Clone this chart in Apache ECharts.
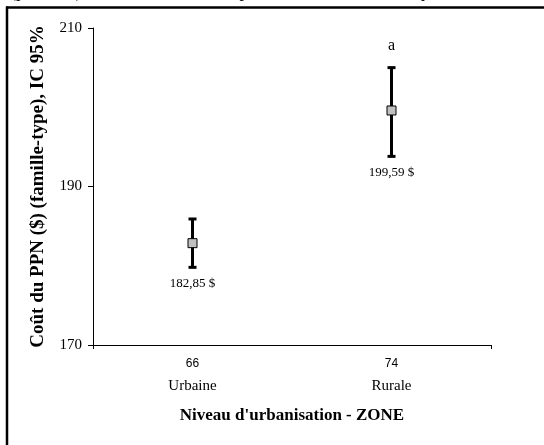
<!DOCTYPE html>
<html>
<head>
<meta charset="utf-8">
<script src="https://cdn.jsdelivr.net/npm/echarts@6/dist/echarts.min.js"></script>
<style>html,body{margin:0;padding:0;background:#fff;}#c{width:544px;height:445px;}</style>
</head>
<body>
<div id="c"></div>
<script>
var categories = ['Urbaine', 'Rurale'];
var counts = [66, 74];
var means = [182.85, 199.59];
var lowerCI = [179.8, 193.8];
var upperCI = [185.9, 205.0];
var meanLabels = ['182,85 $', '199,59 $'];
var letters = ['', 'a'];
var yTicks = [170, 190, 210];

var serif = '"Liberation Serif", "DejaVu Serif", serif';
var sans = '"Liberation Sans", Arial, sans-serif';

var chart = echarts.init(document.getElementById('c'), null, {renderer: 'canvas'});

var errData = categories.map(function (c, i) { return [i, lowerCI[i], upperCI[i], means[i]]; });

var option = {
  animation: false,
  backgroundColor: '#fff',
  grid: {left: 93, top: 28, right: 53, bottom: 100, containLabel: false},
  xAxis: [{
    type: 'category',
    data: categories,
    boundaryGap: true,
    axisLine: {lineStyle: {color: '#000', width: 1}},
    axisTick: {alignWithLabel: true, length: 4, lineStyle: {color: '#000'}},
    axisLabel: {
      margin: 8,
      formatter: function (v, i) { return '{n|' + counts[i] + '}\n{c|' + v + '}'; },
      rich: {
        n: {fontFamily: sans, fontSize: 12, color: '#000', lineHeight: 22},
        c: {fontFamily: serif, fontSize: 15, color: '#000', lineHeight: 22}
      }
    },
    name: "Niveau d'urbanisation - ZONE",
    nameLocation: 'middle',
    nameGap: 62,
    nameTextStyle: {fontFamily: serif, fontSize: 17, fontWeight: 'bold', color: '#000'}
  }, {
    type: 'value',
    position: 'bottom',
    min: 0, max: 1, interval: 1,
    axisLine: {show: false},
    axisTick: {show: true, length: 4, lineStyle: {color: '#000'}},
    axisLabel: {show: false},
    splitLine: {show: false}
  }],
  yAxis: {
    type: 'value',
    min: yTicks[0], max: yTicks[yTicks.length - 1], interval: 20,
    axisLine: {show: true, lineStyle: {color: '#000', width: 1}},
    axisTick: {show: true, length: 5, lineStyle: {color: '#000'}},
    splitLine: {show: false},
    axisLabel: {margin: 11, fontFamily: serif, fontSize: 15, color: '#000'},
    name: 'Coût du PPN ($) (famille-type), IC 95%',
    nameLocation: 'middle',
    nameGap: 45,
    nameTextStyle: {fontFamily: serif, fontSize: 19, fontWeight: 'bold', color: '#000'}
  },
  series: [{
    type: 'custom',
    xAxisIndex: 0,
    data: errData,
    renderItem: function (params, api) {
      var i = api.value(0);
      var lo = api.coord([i, api.value(1)]);
      var hi = api.coord([i, api.value(2)]);
      var x = lo[0];
      var cap = 4;
      var st = {stroke: '#000', lineWidth: 3};
      var children = [
        {type: 'line', shape: {x1: x, y1: lo[1], x2: x, y2: hi[1]}, style: st},
        {type: 'line', shape: {x1: x - cap, y1: lo[1], x2: x + cap, y2: lo[1]}, style: st},
        {type: 'line', shape: {x1: x - cap, y1: hi[1], x2: x + cap, y2: hi[1]}, style: st},
        {type: 'text', x: x, y: lo[1] + 16, style: {text: meanLabels[i], fontFamily: serif, fontSize: 13, fill: '#000', align: 'center', verticalAlign: 'middle'}}
      ];
      if (letters[i]) {
        children.push({type: 'text', x: x, y: hi[1] - 22, style: {text: letters[i], fontFamily: serif, fontSize: 16, fill: '#000', align: 'center', verticalAlign: 'middle'}});
      }
      return {type: 'group', children: children};
    },
    z: 2
  }, {
    type: 'scatter',
    xAxisIndex: 0,
    data: means.map(function (m, i) { return [i, m]; }),
    symbol: 'rect',
    symbolSize: 9,
    itemStyle: {color: '#c0c0c0', borderColor: '#000', borderWidth: 1, opacity: 1},
    z: 3
  }],
  graphic: [
    {type: 'line', shape: {x1: 6, y1: 7.5, x2: 544, y2: 7.5}, style: {stroke: '#000', lineWidth: 2.5}},
    {type: 'line', shape: {x1: 7, y1: 6.5, x2: 7, y2: 445}, style: {stroke: '#000', lineWidth: 2.5}},
    {type: 'text', left: 10, top: -17, style: {text: '(p=0,000). Il coûte au contraire plus cher en zone rurale qu\'en zone urbaine (p<0,001).', fontFamily: serif, fontSize: 18, fill: '#000'}}
  ]
};
chart.setOption(option);
</script>
</body>
</html>
